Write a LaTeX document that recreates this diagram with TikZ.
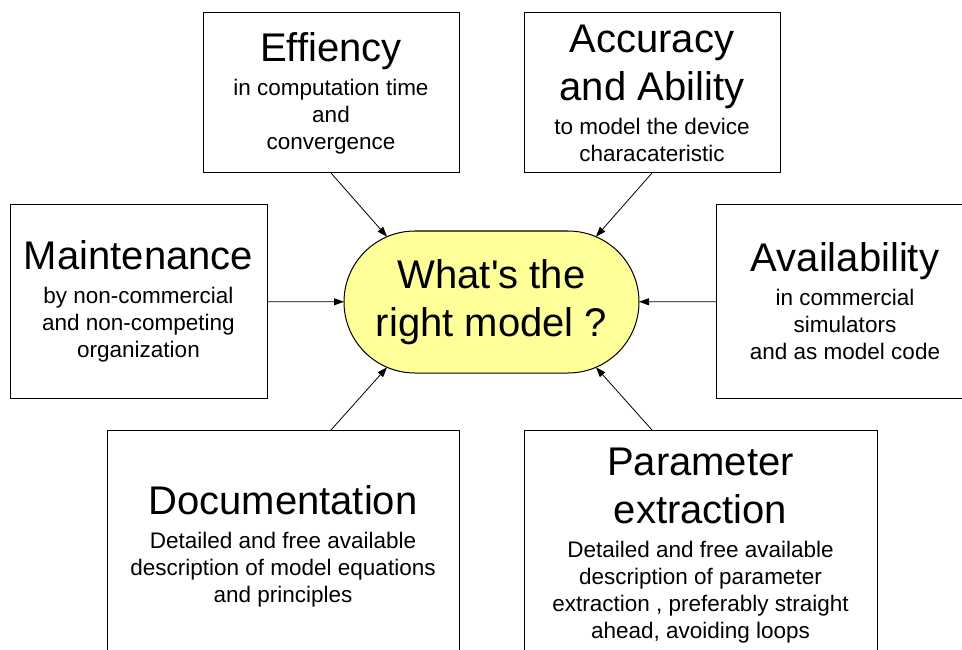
\documentclass[tikz,border=0pt]{standalone}
\usepackage{fontspec}
\setmainfont{Liberation Sans}[Ligatures=TeXOff]
\usetikzlibrary{shapes.misc,arrows.meta}
\definecolor{ctrfill}{RGB}{255,255,153}
\newcommand{\ttl}[1]{{\fontsize{40}{48}\selectfont #1}}
\newcommand{\smallfnt}{\fontsize{22.5}{27}\selectfont\lineskiplimit=-100pt\relax}
\newcommand{\bigfnt}{\fontsize{40}{48}\selectfont\lineskiplimit=-100pt\relax}
\begin{document}
\begin{tikzpicture}[x=1pt,y=-1pt,
  box/.style={draw=black, line width=1pt, inner sep=0pt, outer sep=0pt,
    align=center, font=\smallfnt},
  ctrbox/.style={rounded rectangle, draw=black, line width=1pt, fill=ctrfill,
    inner sep=0pt, outer sep=0pt, align=center, font=\bigfnt,
    minimum width=295pt, minimum height=142pt},
  arr/.style={-{Triangle[length=10pt,width=7pt]}, line width=0.8pt, draw=black}]
\useasboundingbox (0,0) rectangle (962,650);
\clip (0,0) rectangle (962,650);
\fill[white] (0,0) rectangle (962,650);

\node[box, minimum width=256pt, minimum height=160pt] (eff) at (331,93)
  {\ttl{Effiency}\\[7pt] in computation time\\ and\\ convergence};
\node[box, minimum width=256pt, minimum height=160pt] (acc) at (652,93)
  {\ttl{Accuracy}\\[21pt]\ttl{and Ability}\\[7pt] to model the device\\ characateristic};
\node[box, minimum width=257pt, minimum height=193pt] (mnt) at (138.5,301.5)
  {\ttl{Maintenance}\\[7pt] by non-commercial\\ and non-competing\\ organization};
\node[box, minimum width=258pt, minimum height=193pt] (avl) at (845,301.5)
  {\ttl{Availability}\\[7pt] in commercial\\ simulators\\ and as model code};
\node[box, minimum width=352pt, minimum height=232pt] (doc) at (283,546)
  {\ttl{Documentation}\\[7pt] Detailed and free available\\ description of model equations\\ and principles};
\node[box, minimum width=353pt, minimum height=232pt] (par) at (700.5,546)
  {\ttl{Parameter}\\[21pt]\ttl{extraction}\\[7pt] Detailed and free available\\ description of parameter\\ extraction , preferably straight\\ ahead, avoiding loops};

\node[ctrbox] (ctr) at (491.5,302) {What's the\\ right model ?};

\coordinate (docTop) at (doc.north -| eff.south);
\coordinate (parTop) at (par.north -| acc.south);

\draw[arr] (eff.south) -- (ctr.148);
\draw[arr] (acc.south) -- (ctr.32);
\draw[arr] (mnt) -- (ctr);
\draw[arr] (avl) -- (ctr);
\draw[arr] (docTop) -- (ctr.212);
\draw[arr] (parTop) -- (ctr.-32);
\end{tikzpicture}
\end{document}
